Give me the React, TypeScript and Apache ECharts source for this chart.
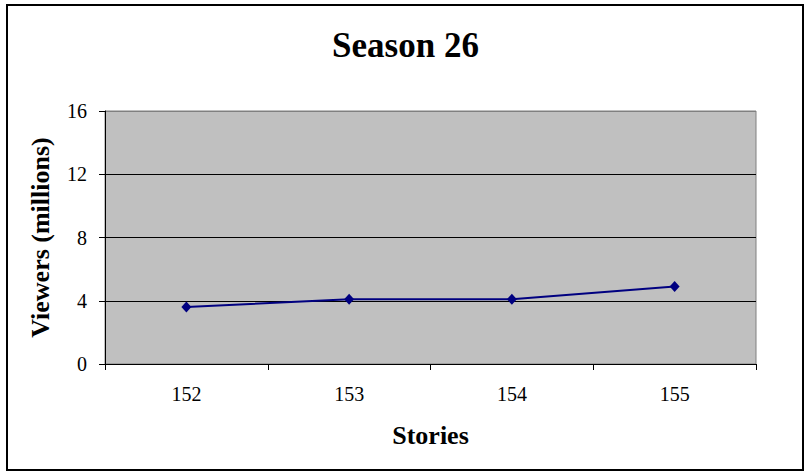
import React, { useEffect, useRef } from "react";
import * as echarts from "echarts";

const categories = ["152", "153", "154", "155"];
const viewers = [3.6, 4.1, 4.1, 4.9];
const titleText = "Season 26";
const xName = "Stories";
const yName = "Viewers (millions)";

export default function App() {
  const ref = useRef<HTMLDivElement>(null);
  useEffect(() => {
    if (!ref.current) return;
    const chart = echarts.init(ref.current, undefined, { renderer: "svg" });
    const font = "Times New Roman, Liberation Serif, DejaVu Serif, serif";
    chart.setOption({
      animation: false,
      backgroundColor: "#ffffff",
      textStyle: { fontFamily: font },
      title: {
        text: titleText,
        left: "center",
        top: 23,
        textStyle: { fontFamily: font, fontSize: 35, fontWeight: "bold", color: "#000" },
      },
      graphic: [
        {
          type: "rect",
          shape: { x: 7, y: 5, width: 796, height: 465 },
          style: { fill: "none", stroke: "#000", lineWidth: 2 },
          silent: true,
        },
      ],
      grid: {
        left: 105,
        right: 55,
        top: 111,
        bottom: 111,
        show: true,
        backgroundColor: "#c0c0c0",
        borderColor: "#808080",
        borderWidth: 1,
      },
      xAxis: {
        type: "category",
        data: categories,
        boundaryGap: true,
        name: xName,
        nameLocation: "middle",
        nameGap: 58,
        nameTextStyle: { fontFamily: font, fontSize: 26, fontWeight: "bold", color: "#000" },
        axisLine: { show: true, lineStyle: { color: "#000", width: 1 } },
        axisTick: { show: true, alignWithLabel: false, length: 6, lineStyle: { color: "#000" } },
        axisLabel: { fontFamily: font, fontSize: 20, color: "#000", margin: 20 },
        splitLine: { show: false },
      },
      yAxis: {
        type: "value",
        min: 0,
        max: 16,
        interval: 4,
        name: yName,
        nameLocation: "middle",
        nameGap: 52,
        nameRotate: 90,
        nameTextStyle: { fontFamily: font, fontSize: 26, fontWeight: "bold", color: "#000" },
        axisLine: { show: true, lineStyle: { color: "#000", width: 1 } },
        axisTick: { show: true, length: 6, lineStyle: { color: "#000" } },
        axisLabel: { fontFamily: font, fontSize: 20, color: "#000", margin: 18 },
        splitLine: {
          show: true,
          lineStyle: { color: ["#000000", "#000000", "#000000", "#000000", "#808080"], width: 1 },
        },
      },
      series: [
        {
          type: "line",
          data: viewers,
          symbol: "diamond",
          symbolSize: [10, 11],
          lineStyle: { color: "#000080", width: 2 },
          itemStyle: { color: "#000080" },
        },
      ],
    });
    return () => chart.dispose();
  }, []);
  return (
    <div
      ref={ref}
      style={{ position: "fixed", left: 0, top: 0, width: 811, height: 475 }}
    />
  );
}
